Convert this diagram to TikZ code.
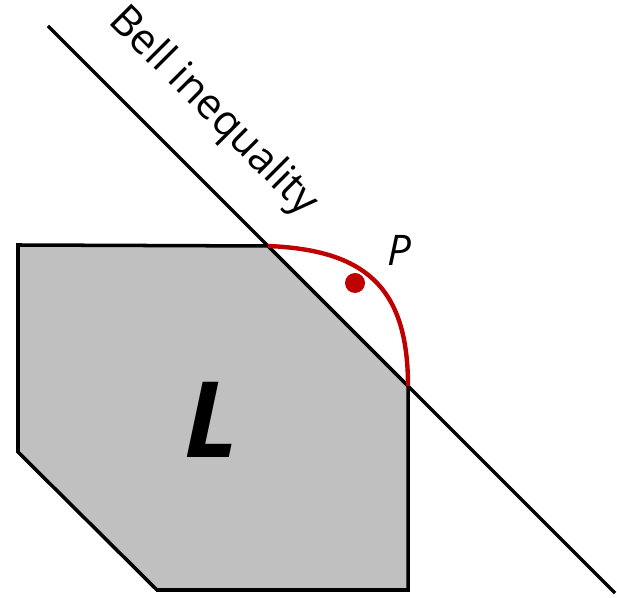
\documentclass[tikz,border=0pt]{standalone}
\usepackage{fontspec}
\setmainfont{Open Sans}
\usetikzlibrary{calc}
\definecolor{localgray}{HTML}{C0C0C0}
\definecolor{quantred}{HTML}{C00000}

\begin{document}
\begin{tikzpicture}[
  x=0.02cm, y=0.02cm,
  line width=2pt, line join=miter,
  polytope/.style = {draw=black, line width=2pt, fill=localgray},
  facet/.style    = {draw=black, line width=2pt, line cap=butt},
  quantum/.style  = {draw=quantred, line width=2.5pt},
  corr/.style     = {fill=quantred, circle, inner sep=0pt, minimum size=0.4cm},
  lbl/.style      = {font=\fontsize{24}{28}\selectfont, inner sep=0pt}
]
\useasboundingbox (0,0) rectangle (617,597);

% local polytope
\coordinate (v1) at (18,352);
\coordinate (v2) at (268,351);
\coordinate (v3) at (408,211);
\coordinate (v4) at (408,7);
\coordinate (v5) at (157,7);
\coordinate (v6) at (18,145);
\draw[polytope] (v1) -- (v2) -- (v3) -- (v4) -- (v5) -- (v6) -- cycle;

% Bell inequality
\coordinate (b1) at (48,571);
\coordinate (b2) at (615,4);
\draw[facet] (b1) -- (b2);

% quantum boundary
\draw[quantum] (v2) .. controls (365,347) and (408,310) .. (v3);
\node[corr] (p) at (355,314) {};

\node[lbl, rotate=-45] (bell) at (213,485) {Bell inequality};
\node[lbl, font=\fontsize{24}{28}\selectfont\itshape] (plbl) at (399,347) {P};
\node[lbl, font=\fontsize{60}{70}\selectfont\bfseries\itshape] (llbl) at (212,177) {L};

\end{tikzpicture}
\end{document}
